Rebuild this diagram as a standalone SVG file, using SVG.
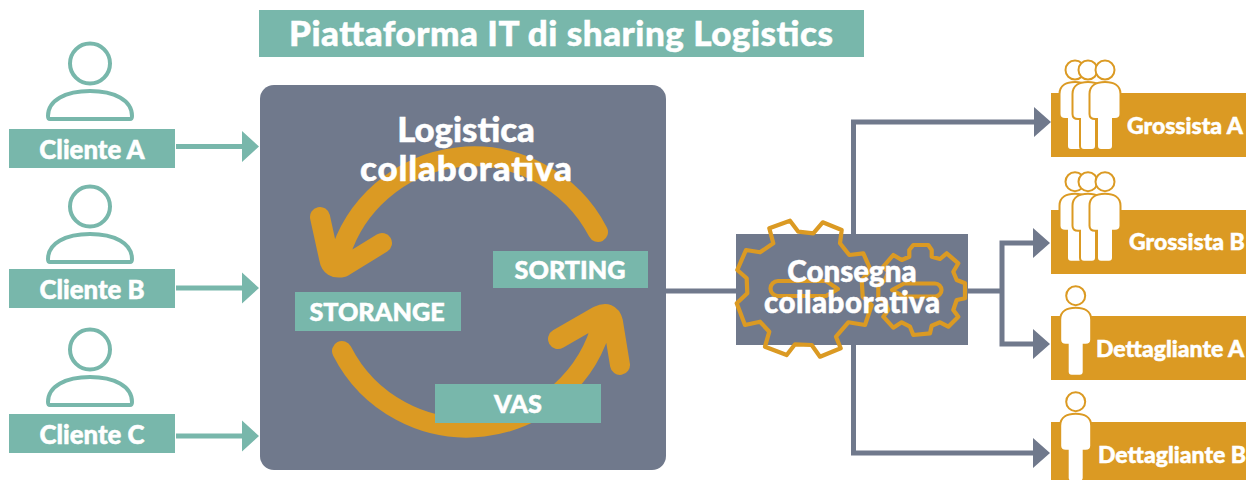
<svg xmlns="http://www.w3.org/2000/svg" xmlns:xlink="http://www.w3.org/1999/xlink" width="1246" height="480" viewBox="0 0 1246 480">
<style>
.t{fill:#78B7AB}.o{fill:#DB9A23}.s{fill:#70798C}
text{font-family:"Lato","Liberation Sans",sans-serif;font-weight:900;fill:#fff;stroke:#fff;stroke-width:.5;text-anchor:middle}
.lb{font-size:25.8px}.bx{font-size:25.2px}.ob{font-size:23px;text-anchor:start}
.ic{fill:#fff;stroke:#78B7AB;stroke-width:4;stroke-linejoin:round}
.cn{fill:none;stroke:#70798C;stroke-width:5}
.tl{fill:none;stroke:#78B7AB;stroke-width:5}
.gr{fill:none;stroke:#DB9A23;stroke-width:4.2;stroke-linecap:round;stroke-linejoin:round}
.cy{fill:none;stroke:#DB9A23;stroke-width:20;stroke-linecap:round;stroke-linejoin:round}
.p{fill:#fff;stroke:#DB9A23;stroke-width:2}
</style>
<defs>
<g id="person">
<circle class="p" cx="0" cy="0" r="9.5"/>
<path class="p" d="M-15.5,24 C-15.5,15 -8,12 0,12 C8,12 15.5,15 15.5,24 V44 Q15.5,49 10,49 H8 V76 Q8,80 4,80 H-4 Q-8,80 -8,76 V49 H-10 Q-15.5,49 -15.5,44 Z"/>
</g>
<g id="client">
<circle class="ic" cx="90" cy="63.5" r="20"/>
<path class="ic" d="M50,119 Q48,119 48,116 C48,100 66,91 90,91 C114,91 132,100 132,116 Q132,119 130,119 Z"/>
</g>
</defs>

<g id="title"><rect class="t" x="259" y="10" width="605" height="47"/><text x="561" y="46" font-size="35" textLength="544">Piattaforma IT di sharing Logistics</text></g>

<g id="connectors">
<path class="tl" d="M176,146.5H243M176,288H243M176,436H243"/>
<path class="t" d="M242,131L259,146.5L242,162ZM242,272.5L259,288L242,303.5ZM242,420.5L259,436L242,451.5Z"/>
<path class="cn" d="M666,291H736M968,291H1002M853.5,234V122H1036M853.5,345V453H1036M1034,243H1002V344H1034"/>
<path class="s" d="M1034,107L1051,122L1034,137ZM1033,228L1050,243L1033,258ZM1033,329L1050,344L1033,359ZM1033,438L1050,453L1033,468Z"/>
</g>

<g id="cliente-a"><use xlink:href="#client"/><rect class="t" x="9" y="129" width="166" height="39"/><text class="lb" x="92" y="158.5">Cliente A</text></g>
<g id="cliente-b"><use xlink:href="#client" y="143"/><rect class="t" x="9" y="269" width="166" height="39"/><text class="lb" x="92" y="298.5">Cliente B</text></g>
<g id="cliente-c"><use xlink:href="#client" y="286"/><rect class="t" x="9" y="414" width="166" height="39"/><text class="lb" x="92" y="443.5">Cliente C</text></g>

<g id="logistica">
<rect class="s" x="260" y="85" width="406" height="385" rx="14"/>
<path class="cy" d="M598,232A140,140 0 0 0 338,262M320,217L329,258Q331,270 343,267L382,243"/>
<path class="cy" d="M342,351A140,140 0 0 0 603,320M620,365L613,322Q610,310 598,316L558,339"/>
<text x="466" y="142" font-size="34.8">Logistica</text>
<text x="466" y="181" font-size="35" textLength="212">collaborativa</text>
</g>
<g id="sorting"><rect class="t" x="493" y="251" width="155" height="37"/><text class="bx" x="570" y="278.5">SORTING</text></g>
<g id="storange"><rect class="t" x="295" y="292" width="166" height="39"/><text class="bx" x="377" y="321">STORANGE</text></g>
<g id="vas"><rect class="t" x="435" y="384" width="166" height="39"/><text class="bx" x="518" y="413">VAS</text></g>

<g id="consegna">
<rect class="s" x="736" y="234" width="232" height="111"/>
<path class="gr" d="M769.3,228.3L790,220.7L798.3,231.7L813.3,233.3L822.7,222.3L841.7,230L840,243.3L849.3,255L863.3,253.3L870.7,270L861.7,280L862.7,296.7L871.7,305L865,325L848.3,322.3L836,336.7L840.7,348.3L820,356.7L811.7,345L795,344.3L786.7,355L765,346.7L769.3,331.7L760,321.7L745,325L736.7,303.3L747.3,293.3L746.7,278.3L737.3,270L746,250L760,252.3L773.3,243.3Z"/>
<path class="gr" d="M909.3,250L913.3,245H928.3L931.7,250V256.7L940,259L946.7,253.3L958.3,263.3L953.3,271.7L956.7,280L965,283.3V298.3L956.7,300L953.3,310L958.3,316.7L948.3,326.7L940,322.3L931.7,325.7L930,333.3L913.3,335L910,326.7L901.7,322.3L893.3,327.7L883.3,316.7L888.3,310L885,301.7L878.3,298.3V285L885,280L888.3,271.7L883.3,266.7L893.3,255L901.7,260L909.3,256.7Z"/>
<path class="gr" d="M778,281H826L838,289L826,296H778A7.5,7.5 0 0 1 778,281Z"/>
<path class="gr" d="M935,283.5H904L892,290L904,296.5H935A6.5,6.5 0 0 0 935,283.5Z"/>
<text x="852" y="282" font-size="29.5">Consegna</text>
<text x="852" y="313" font-size="29.5" textLength="176">collaborativa</text>
</g>

<g id="grossista-a"><rect class="o" x="1051" y="93" width="195" height="64"/><use xlink:href="#person" x="1075" y="70"/><use xlink:href="#person" x="1088" y="70"/><use xlink:href="#person" x="1105" y="70"/><text class="ob" x="1127" y="134">Grossista A</text></g>
<g id="grossista-b"><rect class="o" x="1051" y="210" width="195" height="64"/><use xlink:href="#person" x="1075" y="181.7"/><use xlink:href="#person" x="1088" y="181.7"/><use xlink:href="#person" x="1105" y="181.7"/><text class="ob" x="1129" y="250">Grossista B</text></g>
<g id="dettagliante-a"><rect class="o" x="1051" y="316" width="195" height="64"/><use xlink:href="#person" x="1075.7" y="295.7"/><text class="ob" x="1096" y="357">Dettagliante A</text></g>
<g id="dettagliante-b"><rect class="o" x="1051" y="422" width="195" height="58"/><use xlink:href="#person" x="1075.7" y="401.7"/><text class="ob" x="1098" y="463">Dettagliante B</text></g>
</svg>
